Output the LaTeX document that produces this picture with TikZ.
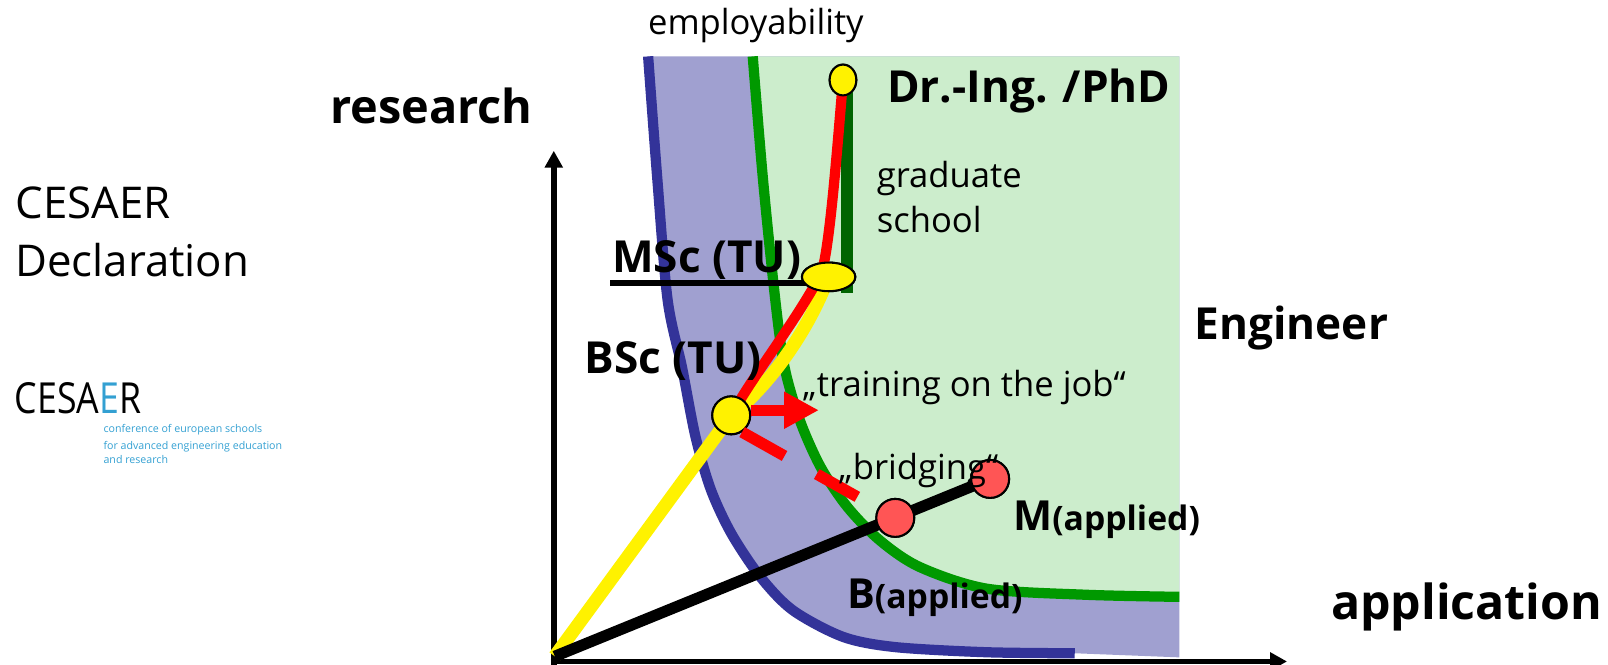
\documentclass[tikz,border=0pt]{standalone}
\usepackage{graphicx}
\usepackage{fontspec}
\setmainfont{Open Sans}
\usetikzlibrary{arrows.meta,shapes.geometric}
\definecolor{bluefill}{RGB}{160,160,208}
\definecolor{greenfill}{RGB}{204,237,204}
\definecolor{blueline}{RGB}{51,51,153}
\definecolor{greenline}{RGB}{0,153,0}
\definecolor{darkgreen}{RGB}{0,100,0}
\definecolor{lightred}{RGB}{255,85,85}
\definecolor{cesaerblue}{RGB}{51,160,210}
\begin{document}
\begin{tikzpicture}[x=0.02cm,y=-0.02cm,
  lbl/.style={inner sep=0pt, outer sep=0pt, anchor=base west},
  reg/.style={lbl, font=\fontsize{19.2}{23}\selectfont},
  big/.style={lbl, font=\fontsize{24.5}{29}\selectfont\bfseries},
  axisline/.style={line width=0.115cm, -{Triangle[length=0.33cm,width=0.34cm]}},
  yellownode/.style={draw=black, line width=0.04cm, fill=yellow, inner sep=0pt},
  rednode/.style={circle, draw=black, line width=0.04cm, fill=lightred, inner sep=0pt, minimum size=0.74cm}]
\useasboundingbox (0,0) rectangle (1568,647.5);
% fills
\fill[bluefill] plot[smooth] coordinates {(632,55) (641,175) (651,292.5) (665,358) (678,425) (693,477) (713,520) (741,562) (773,595) (822,621) (873,631) (962,636) (1048,637)} -- (1150,641) -- (1150,55) -- cycle;
\fill[greenfill] plot[smooth] coordinates {(734,55) (744,175) (756,292.5) (765,358) (780,410) (800,455) (826,494) (858,527) (897,553) (962,574) (1060,580) (1150,582)} -- (1150,55) -- cycle;
% boundary curves
\draw[blueline, line width=0.2cm] plot[smooth] coordinates {(632,55) (641,175) (651,292.5) (665,358) (678,425) (693,477) (713,520) (741,562) (773,595) (822,621) (873,631) (962,636) (1048,637)};
\draw[greenline, line width=0.2cm] plot[smooth] coordinates {(734,55) (744,175) (756,292.5) (765,358) (780,410) (800,455) (826,494) (858,527) (897,553) (962,574) (1060,580) (1150,582)};
% named points
\coordinate (origin) at (541,640);
\coordinate (axorigin) at (540,645);
\coordinate (ytip) at (540,147);
\coordinate (xtip) at (1255,645);
\coordinate (rmid) at (800,268);
\coordinate (dashend) at (836,484.5);
\coordinate (ulstart) at (595,276);
% nodes
\path (713,405) node[yellownode, circle, minimum size=0.74cm] (bsc) {};
\path (808,270) node[yellownode, ellipse, minimum width=1.04cm, minimum height=0.56cm] (msc) {};
\path (822,78) node[yellownode, ellipse, minimum width=0.52cm, minimum height=0.6cm] (dr) {};
\path (873,505) node[rednode] (bapp) {};
\path (965.5,467) node[rednode] (mapp) {};
% axes
\draw[axisline] ([yshift=-0.06cm]axorigin) -- (ytip);
\draw[axisline] ([xshift=-0.06cm]axorigin) -- (xtip);
% paths
\draw[yellow, line width=0.26cm] (origin) -- (bsc.center) .. controls (745,380) and (785,330) .. (msc.center);
\draw[line width=0.22cm] (origin) -- (mapp.center);
\draw[darkgreen, line width=0.22cm] (dr.center) ++(4,0) -- ++(0,208);
\draw[red, line width=0.2cm] (bsc.center) .. controls (735,365) and (775,315) .. (rmid) .. controls (808,253) and (816,150) .. (dr.center);
\draw[line width=0.1cm] (ulstart) -- (ulstart -| msc.center);
% redraw nodes on top
\node[yellownode, circle, minimum size=0.74cm] at (bsc.center) {};
\node[yellownode, ellipse, minimum width=1.04cm, minimum height=0.56cm] at (msc.center) {};
\node[yellownode, ellipse, minimum width=0.52cm, minimum height=0.6cm] at (dr.center) {};
\node[rednode] at (bapp.center) {};
\node[rednode] at (mapp.center) {};
% red arrow and dashes
\draw[red, line width=0.22cm, -{Triangle[length=0.68cm,width=0.68cm]}] ([yshift=0.1cm]bsc.east) -- ++(66,0);
\draw[red, line width=0.22cm, dash pattern=on 0.95cm off 0.72cm on 0.92cm off 1cm] (bsc.-57) -- (dashend);
% texts
\node[reg] (emp) at (632,34) {employability};
\node[lbl, font=\fontsize{26}{31}\selectfont\bfseries] (res) at (322,120) {research};
\node[lbl, font=\fontsize{24.3}{29}\selectfont] (ces) at (15,213) {CESAER};
\node[lbl, font=\fontsize{24.3}{29}\selectfont] (decl) at (15,270) {Declaration};
\node[big] (drt) at (865,99.5) {Dr.-Ing. /PhD};
\node[reg] (grad) at (855,183) {graduate};
\node[reg] (school) at (855,227) {school};
\node[big] (msct) at (597,266) {MSc (TU)};
\node[big] (eng) at (1165,331) {Engineer};
\node[big] (bsct) at (570,364) {BSc (TU)};
\node[reg] (train) at (783,387) {„training on the job“};
\node[reg] (bridge) at (818,468) {„bridging“};
\node[lbl, font=\bfseries] (mt) at (988,517) {\fontsize{23}{28}\selectfont M\fontsize{18.7}{22}\selectfont(applied)};
\node[lbl, font=\bfseries] (bt) at (826,593) {\fontsize{23}{28}\selectfont B\fontsize{18.7}{22}\selectfont(applied)};
\node[lbl, font=\fontsize{26.8}{32}\selectfont\bfseries] (app) at (1298,604) {application};
% logo
\node[lbl] (logo) at (14.6,403) {\scalebox{1}[1.2]{\fontsize{19.8}{24}\selectfont CESA\textcolor{cesaerblue}{E}R}};
\node[lbl, text=cesaerblue, font=\fontsize{5.9}{7}\selectfont] (l1) at (101,422) {conference of european schools};
\node[lbl, text=cesaerblue, font=\fontsize{5.9}{7}\selectfont] (l2) at (101,438) {for advanced engineering education};
\node[lbl, text=cesaerblue, font=\fontsize{5.9}{7}\selectfont] (l3) at (101,451.5) {and research};
\end{tikzpicture}
\end{document}
